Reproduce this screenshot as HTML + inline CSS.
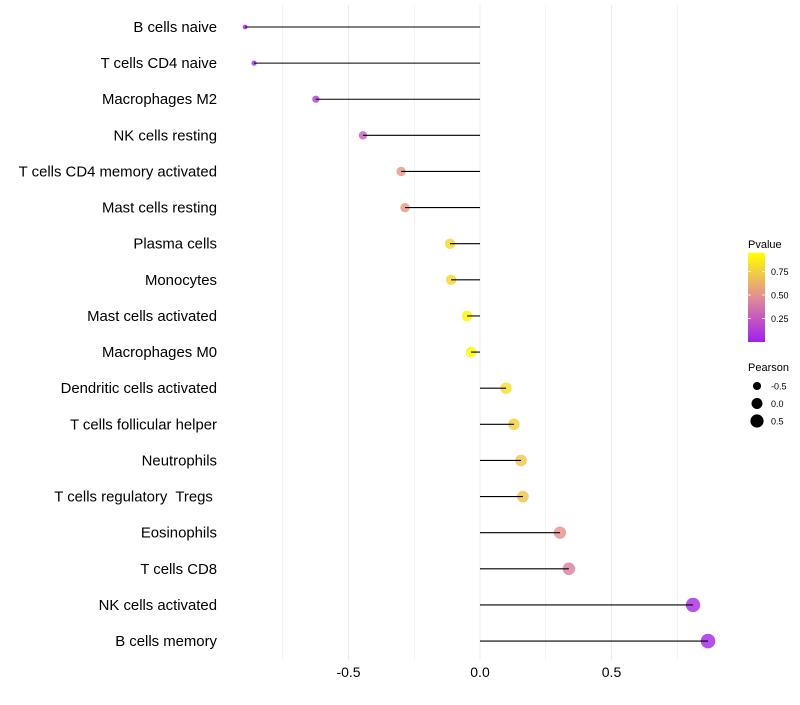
<!DOCTYPE html>
<html><head><meta charset="utf-8"><style>
body{margin:0;background:#fff;font-family:"Liberation Sans",sans-serif}
</style></head><body>
<svg id="c" width="800" height="700" xmlns="http://www.w3.org/2000/svg" font-family="Liberation Sans, sans-serif"></svg>
<script>
const categories=["B cells naive","T cells CD4 naive","Macrophages M2","NK cells resting","T cells CD4 memory activated","Mast cells resting","Plasma cells","Monocytes","Mast cells activated","Macrophages M0","Dendritic cells activated","T cells follicular helper","Neutrophils","T cells regulatory  Tregs ","Eosinophils","T cells CD8","NK cells activated","B cells memory"];
const pearson=[-0.893,-0.859,-0.624,-0.445,-0.300,-0.285,-0.114,-0.110,-0.049,-0.034,0.099,0.129,0.156,0.163,0.304,0.338,0.810,0.867];
const pvalue=[0.02,0.04,0.14,0.30,0.55,0.56,0.82,0.82,0.95,0.97,0.85,0.80,0.76,0.74,0.52,0.44,0.06,0.04];
const xTicks=[-0.5,0,0.5];
const xTickLabels=["-0.5","0.0","0.5"];
const xGrid=[-0.75,-0.5,-0.25,0,0.25,0.5,0.75];
const pTicks=[0.25,0.5,0.75];
const pTickLabels=["0.25","0.50","0.75"];
const sizeVals=[-0.5,0,0.5];
const sizeLabels=["-0.5","0.0","0.5"];

const svg=document.getElementById('c');
const NS="http://www.w3.org/2000/svg";
const x=v=>480+263*v;
const y=i=>27+i*36.12;
const rad=v=>Math.sqrt(Math.max(3,30+27*v));
function col(p){
  const stops=[[0,[160,32,240]],[0.5,[226,140,150]],[1,[255,255,0]]];
  let a=stops[0],b=stops[1];if(p>0.5){a=stops[1];b=stops[2];}
  const t=(p-a[0])/(b[0]-a[0]);
  const c=a[1].map((v,k)=>Math.round(v+(b[1][k]-v)*t));
  return `rgb(${c.join(',')})`;
}
function mk(tag,attrs,parent){const e=document.createElementNS(NS,tag);for(const k in attrs)e.setAttribute(k,attrs[k]);(parent||svg).appendChild(e);return e;}

xGrid.forEach(g=>{
  const l=mk('line',{x1:x(g),x2:x(g),y1:5,y2:660,stroke:'#ebebeb','stroke-width':xTicks.includes(g)?1:0.6});
  
  
});
xTicks.forEach((t,i)=>{
  const tx=mk('text',{x:x(t),y:677,'text-anchor':'middle','font-size':14,fill:'#000'});
  tx.textContent=xTickLabels[i];
  
  
});
categories.forEach((c,i)=>{
  const lab=mk('text',{x:217,y:y(i)+5,'text-anchor':'end','font-size':14.9,fill:'#000',style:'white-space:pre'});
  lab.textContent=c;
  
  
  const dot=mk('circle',{cx:x(pearson[i]),cy:y(i),r:rad(pearson[i]),fill:col(pvalue[i]),'fill-opacity':0.82});
  
  
  const seg=mk('line',{x1:x(0),x2:x(pearson[i]),y1:y(i),y2:y(i),stroke:'#000','stroke-width':1.1});
  
  
});
// color legend
const lt=mk('text',{x:748,y:248,'font-size':11,fill:'#000'});lt.textContent='Pvalue';


const defs=mk('defs',{});
const lg=mk('linearGradient',{id:'g',x1:0,y1:1,x2:0,y2:0},defs);
[0,0.25,0.5,0.75,1].forEach(s=>mk('stop',{offset:s,'stop-color':col(s)},lg));
const py=p=>342-94*p;
const bar=mk('rect',{x:748,y:py(0.95),width:17,height:py(0)-py(0.95),fill:'url(#g)'});


pTicks.forEach((t,i)=>{
  mk('line',{x1:748,x2:751,y1:py(t),y2:py(t),stroke:'#fff','stroke-width':0.8});
  mk('line',{x1:762,x2:765,y1:py(t),y2:py(t),stroke:'#fff','stroke-width':0.8});
  const tx=mk('text',{x:771,y:py(t)+3.5,'font-size':9,fill:'#000'});tx.textContent=pTickLabels[i];
  
  
});
const st=mk('text',{x:748,y:371,'font-size':11,fill:'#000'});st.textContent='Pearson';


sizeVals.forEach((v,i)=>{
  const cy=386+i*17.5;
  const d=mk('circle',{cx:757,cy:cy,r:rad(v),fill:'#000'});
  
  
  const tx=mk('text',{x:771,y:cy+3.5,'font-size':9,fill:'#000'});tx.textContent=sizeLabels[i];
  
  
});
</script>
</body></html>
